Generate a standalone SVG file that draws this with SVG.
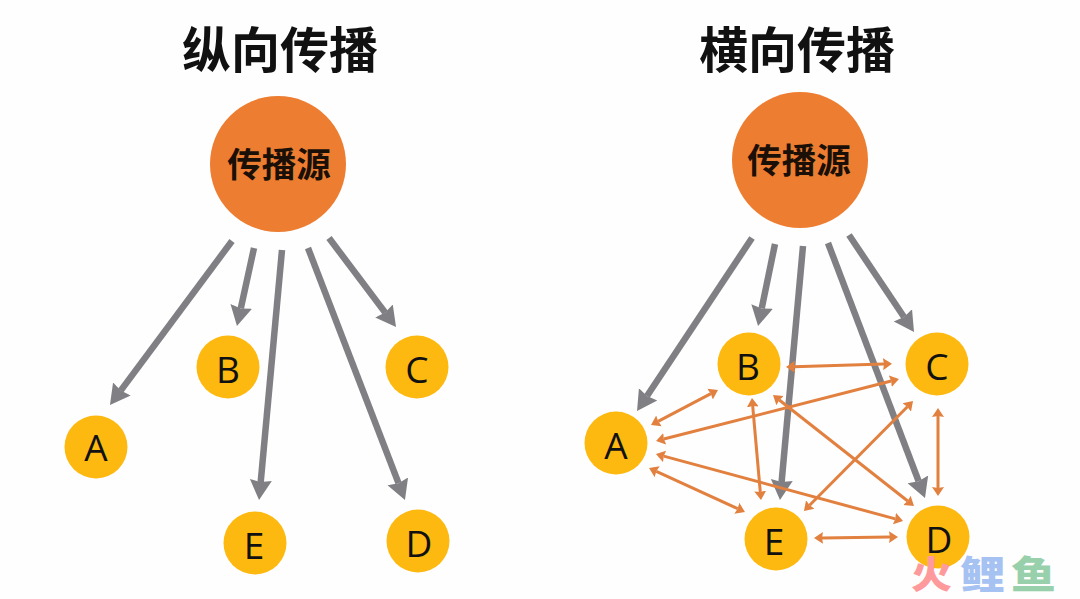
<svg xmlns="http://www.w3.org/2000/svg" width="1080" height="599" viewBox="0 0 1080 599">
<style>
.title{font-family:"Noto Sans CJK SC","Liberation Sans",sans-serif;font-size:49px;font-weight:700;fill:#111;text-anchor:middle}
.src{fill:#ed7d31}
.srct{font-family:"Noto Sans CJK SC","Liberation Sans",sans-serif;font-size:34.5px;font-weight:700;fill:#1a1008;text-anchor:middle}
.n{fill:#fdb90f}
.nt{font-family:"Open Sans","Liberation Sans",sans-serif;font-size:37px;fill:#111;text-anchor:middle}
.g{stroke:#808084;stroke-width:6.5;fill:none;marker-end:url(#gh)}
.o{stroke:#e2803f;stroke-width:3;fill:none;marker-start:url(#oh);marker-end:url(#oh)}
.wm{font-family:"Noto Sans CJK SC","Liberation Sans",sans-serif;font-size:38px;font-weight:900}
</style>
<defs>
<marker id="gh" markerUnits="userSpaceOnUse" markerWidth="22" markerHeight="28" refX="2" refY="14" orient="auto"><path d="M0,3 L20,14 L0,25 L2,14 Z" fill="#808084"/></marker>
<marker id="oh" markerUnits="userSpaceOnUse" markerWidth="12" markerHeight="14" refX="1" refY="7" orient="auto-start-reverse"><path d="M0,1 L9,7 L0,13 L1,7 Z" fill="#e2803f"/></marker>
</defs>
<rect width="1080" height="599" fill="#fefefe"/>
<text class="title" x="280" y="68">纵向传播</text>
<text class="title" x="797" y="68">横向传播</text>
<g id="connectors">
<line class="g" x1="232" y1="241" x2="120.7" y2="390.6"/>
<line class="g" x1="254" y1="248" x2="240.8" y2="308.4"/>
<line class="g" x1="282" y1="250" x2="260.7" y2="482.1"/>
<line class="g" x1="308" y1="248" x2="398.5" y2="483.2"/>
<line class="g" x1="329" y1="238" x2="385.2" y2="312.6"/>
<line class="g" x1="752" y1="238" x2="647" y2="396"/>
<line class="g" x1="775" y1="244" x2="761.7" y2="308.4"/>
<line class="g" x1="803" y1="246" x2="781.6" y2="482.1"/>
<line class="g" x1="828" y1="243" x2="918.6" y2="481.2"/>
<line class="g" x1="849" y1="235" x2="904" y2="317"/>
<line class="o" x1="794" y1="366.8" x2="884" y2="364.1"/>
<line class="o" x1="663.8" y1="439" x2="891.2" y2="381"/>
<line class="o" x1="658.1" y1="421.3" x2="710.9" y2="393.7"/>
<line class="o" x1="752.7" y1="406" x2="760.3" y2="492"/>
<line class="o" x1="779.3" y1="400" x2="907.7" y2="501"/>
<line class="o" x1="809.6" y1="505.3" x2="907.4" y2="406.7"/>
<line class="o" x1="938" y1="416" x2="938" y2="488"/>
<line class="o" x1="663.7" y1="456.1" x2="895.3" y2="518.9"/>
<line class="o" x1="656.3" y1="471.3" x2="737.7" y2="508.7"/>
<line class="o" x1="822" y1="537.9" x2="890" y2="537.1"/>
</g>
<g id="source-left"><circle class="src" cx="278" cy="164" r="68"/><text class="srct" x="279" y="177">传播源</text></g>
<g id="source-right"><circle class="src" cx="800" cy="160" r="68"/><text class="srct" x="799" y="173">传播源</text></g>
<g id="left-a"><circle class="n" cx="96" cy="447" r="31.5"/><text class="nt" x="96" y="461">A</text></g>
<g id="left-b"><circle class="n" cx="228" cy="367" r="31.5"/><text class="nt" x="228" y="383">B</text></g>
<g id="left-c"><circle class="n" cx="417" cy="367" r="31.5"/><text class="nt" x="417" y="383">C</text></g>
<g id="left-e"><circle class="n" cx="255" cy="543" r="31.5"/><text class="nt" x="254" y="559">E</text></g>
<g id="left-d"><circle class="n" cx="418" cy="541" r="31.5"/><text class="nt" x="419" y="557">D</text></g>
<g id="right-a"><circle class="n" cx="616" cy="443" r="31.5"/><text class="nt" x="616" y="459">A</text></g>
<g id="right-b"><circle class="n" cx="749" cy="364" r="31.5"/><text class="nt" x="748" y="380">B</text></g>
<g id="right-c"><circle class="n" cx="937" cy="364" r="31.5"/><text class="nt" x="937" y="380">C</text></g>
<g id="right-e"><circle class="n" cx="776" cy="539" r="31.5"/><text class="nt" x="774" y="555">E</text></g>
<g id="right-d"><circle class="n" cx="938" cy="537" r="31.5"/><text class="nt" x="939" y="553">D</text></g>
<g id="watermark">
<text class="wm" x="911" y="588" fill="#ff9a9c" textLength="41" lengthAdjust="spacingAndGlyphs">火</text>
<text class="wm" x="960" y="588" fill="#a6c2f3" textLength="45" lengthAdjust="spacingAndGlyphs">鲤</text>
<text class="wm" x="1011" y="588" fill="#98d0ac" textLength="45" lengthAdjust="spacingAndGlyphs">鱼</text>
</g>
</svg>
